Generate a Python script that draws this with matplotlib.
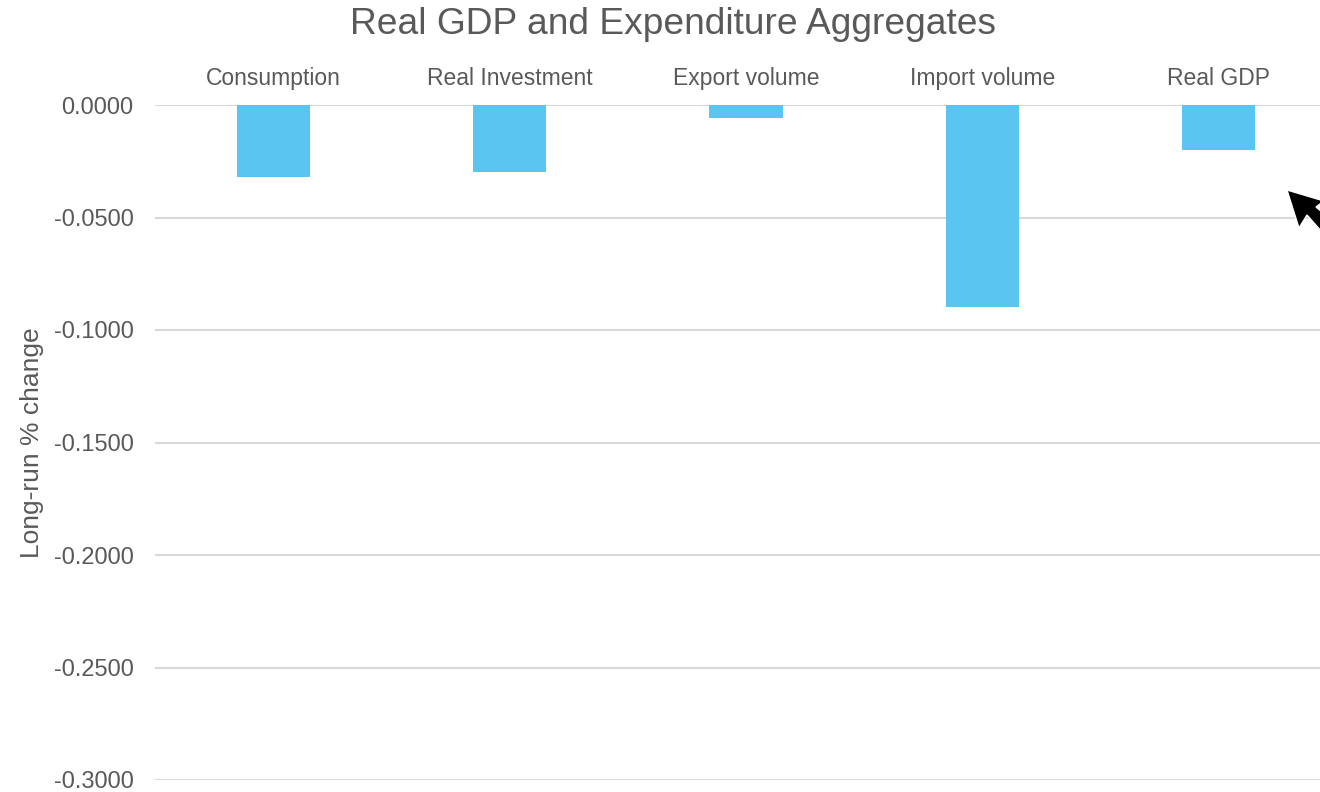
import matplotlib.pyplot as plt
from matplotlib.patches import Polygon
from matplotlib.ticker import FuncFormatter

categories = ['Consumption', 'Real Investment', 'Export volume', 'Import volume', 'Real GDP']
values = [-0.0321, -0.0297, -0.0058, -0.0899, -0.0200]
y_ticks = [0.0, -0.05, -0.10, -0.15, -0.20, -0.25, -0.30]

text_color = '#595959'
bar_color = '#5BC5F2'
grid_color = '#D9D9D9'

plt.rcParams['font.family'] = ['Liberation Sans', 'DejaVu Sans']

fig = plt.figure(figsize=(13.2, 7.92), dpi=100)
ax = fig.add_axes([155 / 1320, 1 - 780 / 792, 1182 / 1320, (780 - 105) / 792])

x = range(len(categories))
ax.bar(x, values, width=0.31, color=bar_color, zorder=3)

ax.set_xlim(-0.5, len(categories) - 0.5)
ax.set_ylim(-0.30, 0.0)
ax.set_yticks(y_ticks)
ax.yaxis.set_major_formatter(FuncFormatter(lambda v, _: f'{v:.4f}' if v != 0 else '0.0000'))
ax.grid(axis='y', color=grid_color, linewidth=1.5, zorder=0)
ax.set_axisbelow(True)

ax.xaxis.tick_top()
ax.set_xticks(list(x))
ax.set_xticklabels(categories)
ax.tick_params(axis='x', length=0, pad=11, labelsize=16.5, labelcolor=text_color)
ax.tick_params(axis='y', length=0, pad=15.5, labelsize=17, labelcolor=text_color)
for side in ['top', 'bottom', 'left', 'right']:
    ax.spines[side].set_visible(False)

fig.text(32 / 1320, 1 - 443 / 792, 'Long-run % change', rotation=90, ha='center', va='center',
         fontsize=19, color=text_color)
fig.text(673 / 1320, 1 - 24 / 792, 'Real GDP and Expenditure Aggregates', ha='center', va='center',
         fontsize=26.7, color=text_color)

# mouse pointer captured in the screenshot
pointer = [(1287, 190), (1299, 228), (1307, 215), (1322, 232), (1322, 212), (1316, 207), (1324, 201)]
fig.patches.append(Polygon([(px / 1320, 1 - py / 792) for px, py in pointer], closed=True,
                           transform=fig.transFigure, facecolor='black', edgecolor='white', linewidth=1))

plt.savefig('out.png', dpi=100)
plt.close()
